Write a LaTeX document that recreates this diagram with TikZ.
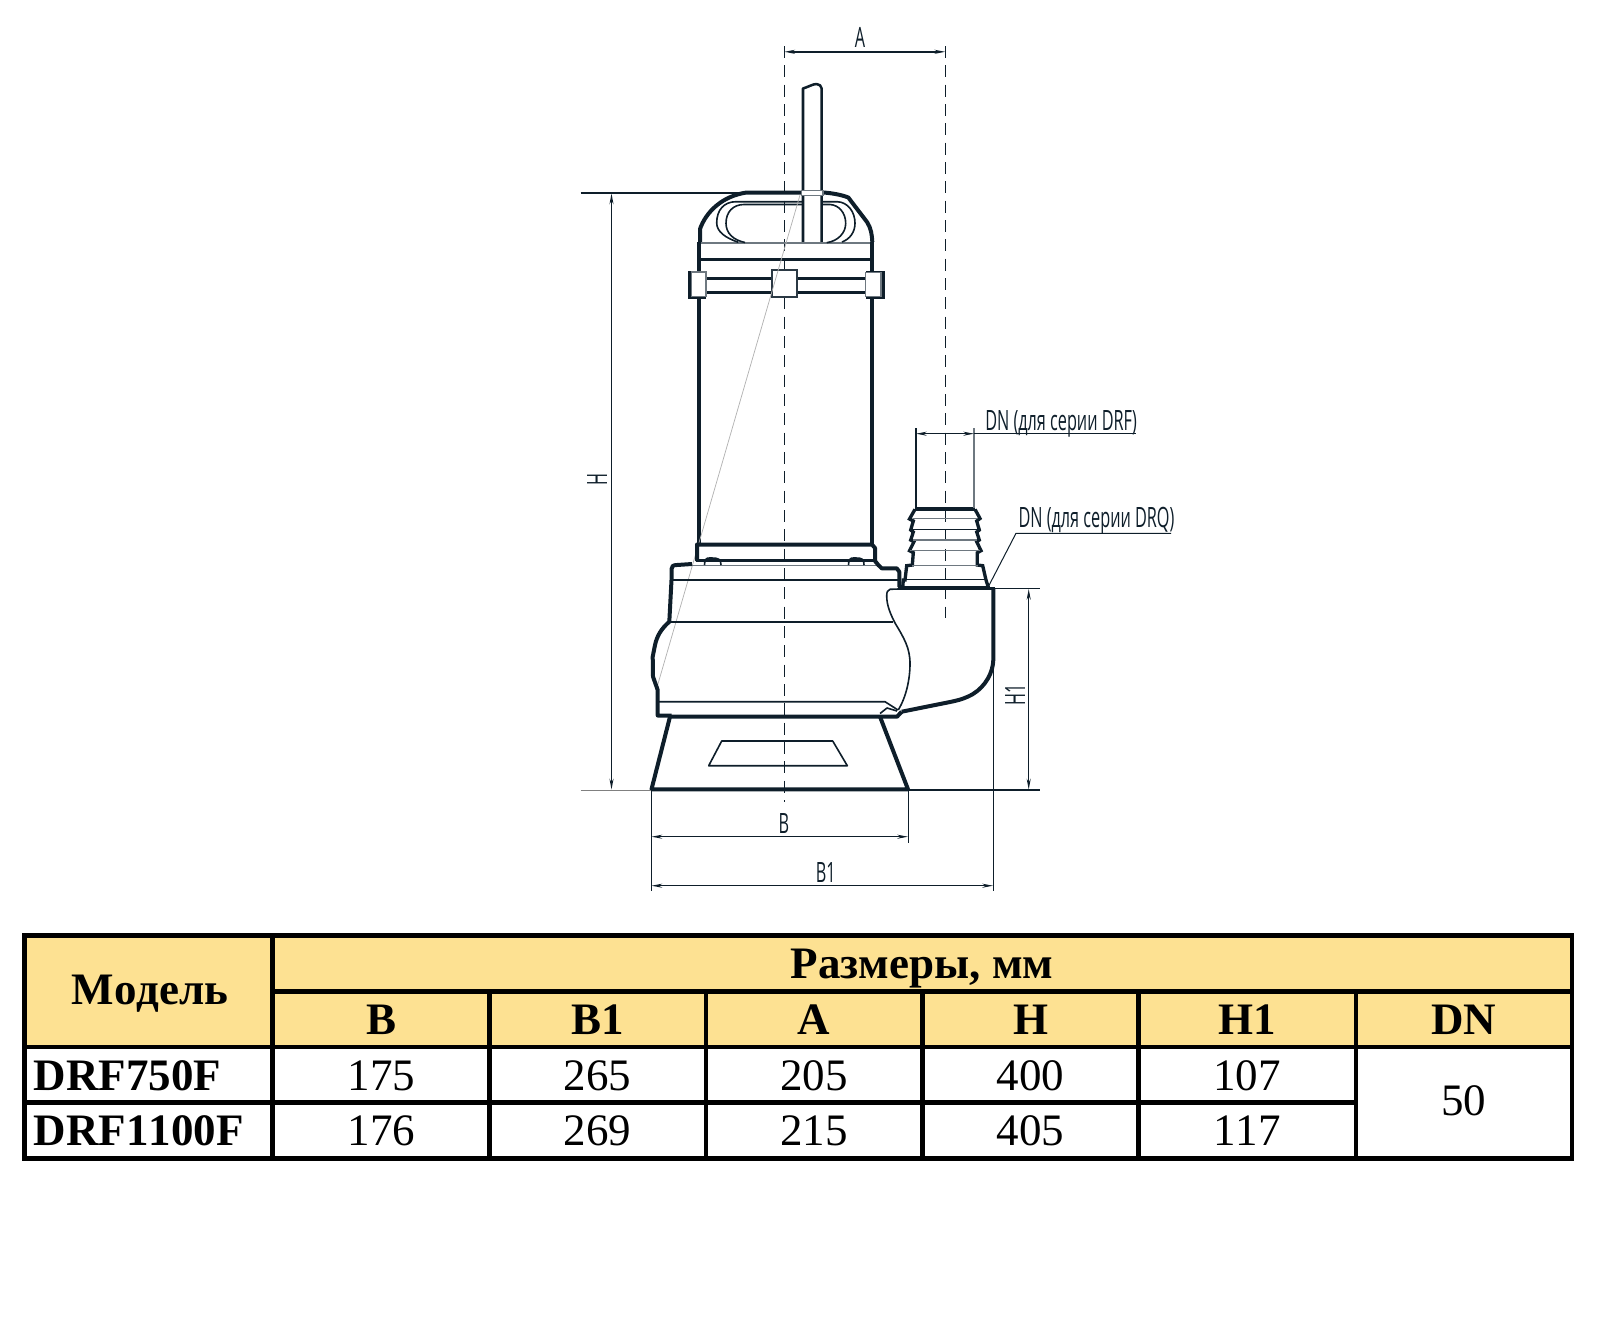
\documentclass[tikz,border=0pt]{standalone}
\usepackage{fontspec}
\setmainfont[Kerning=Off]{Liberation Serif}
\newfontfamily\dimfont[FakeStretch=0.58]{Open Sans}
\usetikzlibrary{arrows.meta}
\definecolor{ink}{HTML}{0E1E2A}
\definecolor{hdr}{HTML}{FDE192}
\definecolor{soft}{HTML}{6E7880}
\tikzset{
  x=0.75pt,y=-0.75pt,
  heavy/.style={draw=ink,line width=3.0pt,line join=round},
  mid/.style={draw=ink,line width=1.9pt,line join=round},
  fine/.style={draw=ink,line width=1.2pt,line join=round},
  hair/.style={draw=ink,line width=0.8pt},
  grayline/.style={draw=soft,line width=0.9pt},
  centre/.style={draw=ink,line width=0.8pt,dash pattern=on 9pt off 5.5pt},
  dimen/.style={draw=ink,line width=1.05pt,{Stealth[length=8pt,width=3pt]}-{Stealth[length=8pt,width=3pt]}},
  dimlabel/.style={inner sep=0,text=ink,font=\dimfont\fontsize{21}{23}\selectfont},
  grid/.style={draw=black,line width=3.3pt},
  cell/.style={inner sep=0,anchor=base,text=black,font=\fontsize{33.75}{36}\selectfont},
  head/.style={inner sep=0,anchor=base,text=black,font=\bfseries\fontsize{33.75}{36}\selectfont},
}
\begin{document}
\begin{tikzpicture}
\useasboundingbox (0,0) rectangle (1609,1324);
% ---- centre lines
\coordinate (cTop) at (784.3,46); \coordinate (cBot) at (784.3,802);
\coordinate (dTop) at (945.3,46); \coordinate (dBot) at (945.3,618);
\draw[centre] (cTop) -- (cBot);
\draw[centre] (dTop) -- (dBot);
% ---- cable
\draw[mid] (803,243) -- (803,88.5) .. controls (808,87) and (813,84) .. (816.5,84) .. controls (819,84) and (821.7,86) .. (821.7,88.5) -- (821.7,243);
% ---- cap
\draw[heavy] (700,242) -- (700,229) .. controls (706,212) and (722,196) .. (746.7,192.5) -- (802,192.5);
\draw[heavy] (823,192.5) .. controls (832,193) and (842,195) .. (848.3,197.5) -- (867,222) .. controls (871,228) and (872,235) .. (872.3,242);
\draw[draw=soft,line width=1.4pt] (700,242.7) -- (872,242.7);
\draw[mid] (700,259.3) -- (872,259.3);
% handle oval
\draw[fine] (738.3,242.3) .. controls (726,238) and (716.7,232) .. (716.7,223) .. controls (716.7,210) and (724,201.7) .. (736,201.7) -- (802,201.7);
\draw[fine] (745,242.5) .. controls (733,240) and (726,233) .. (726,223.3) .. controls (726,212) and (733,204.5) .. (744,204.5) -- (802,204.5);
\draw[fine] (822.5,201.7) -- (837,201.7) .. controls (848,202) and (855,212) .. (855,223.3) .. controls (855,232) and (850,239) .. (842,242);
\draw[fine] (822.5,204.5) -- (830,204.5) .. controls (839,205) and (845.7,213) .. (845.7,223.3) .. controls (845.7,233) and (838,241) .. (826.7,242.7);
\draw[draw=soft,fill=white,line width=1pt] (801.7,190.7) rectangle (823,195.5);
% ---- motor walls
\draw[heavy] (699,242) -- (699,544);
\draw[heavy] (871.7,242) -- (871.7,544);
% clamp band
\draw[draw=ink,line width=2.3pt] (700,278.3) -- (872,278.3);
\draw[draw=ink,line width=2.3pt] (700,292.3) -- (872,292.3);
% clamp blocks
\path[fill=ink] (687.5,270.5) rectangle (706,298.5);
\draw[draw=soft,fill=white,line width=0.8pt] (691.5,272) rectangle (706,296.5);
\path[fill=ink] (865.5,270.5) rectangle (884.5,298.5);
\draw[draw=soft,fill=white,line width=0.8pt] (865.5,272.5) rectangle (881,296.5);
\draw[draw=ink!70!soft,fill=white,line width=1.5pt] (772,270) rectangle (796.7,297.3);
% grey diagonal
\draw[draw=gray!60,line width=0.55pt] (800,195) -- (656.7,688.3);
% ---- collar
\draw[heavy] (697,561) -- (697,544.5) -- (872,544.5) -- (875,548) -- (875,561);
\draw[mid] (696,560.7) -- (875,560.7);
\draw[grayline] (692,565.7) -- (878,565.7);
\draw[fine] (704.5,565) -- (705,560) .. controls (706,558) and (708,558) .. (712,558) .. controls (718,558) and (721,559) .. (721,565);
\draw[fine] (848.5,565) -- (849,560) .. controls (850,558) and (852,558) .. (856,558) .. controls (862,558) and (864,559) .. (864,565);
% ---- housing outline
\draw[heavy] (692,564) -- (677,565) .. controls (673,565) and (671.5,566.5) .. (671.5,569) -- (671.5,580) -- (669.3,621.7) .. controls (661,629) and (657,636) .. (655,645) -- (652.7,656.7) -- (653,676.7) -- (657.7,690) -- (657.7,715.5) -- (671.7,715.5);
\draw[heavy] (670,716.7) -- (897,716.7) -- (901.7,711.7);
\draw[heavy] (875,561) -- (878.3,565) -- (881.7,568.3) -- (896.7,568.3) -- (899.3,571.7) -- (899.3,587);
\draw[mid] (671,580) -- (899,580);
\draw[fine] (669,622) -- (893.3,622);
% volute
\draw[fine] (898.5,589) -- (890,589.3) .. controls (887.5,590) and (886.7,592) .. (886.7,596) .. controls (886.7,606) and (891,615) .. (895,623) .. controls (904,638) and (910,648) .. (910,663.5) .. controls (910,680) and (906,697) .. (898.3,710);
\draw[heavy] (993.3,588) -- (993.3,660) .. controls (993,672) and (986,686) .. (973,694) .. controls (966,698) and (960,700) .. (950,702) -- (901.7,711.7);
\draw[draw=ink,line width=2.3pt] (898,588.3) -- (995,588.3);
% lower band
\draw[fine] (657.7,701.7) -- (885,701.7) -- (898,710);
\draw[fine] (880,713.5) -- (887,708) -- (897,711);
% ---- pedestal
\draw[heavy] (670,716.7) -- (651.5,789.3) -- (908,789.3) -- (880,716.7);
\draw[fine] (721.7,741) -- (832.7,741) -- (847.3,765.7) -- (708.7,765.7) -- cycle;
% ---- nozzle
\draw[heavy] (915,509.3) -- (975,509.3);
\draw[draw=ink,line width=2.5pt,line join=miter]
  (915,509.3) -- (909.5,519) -- (913.3,521) -- (910.7,530) -- (913.3,532) -- (910.7,540) -- (914,541.7) -- (909.5,550.7) -- (913.3,552.7) -- (912.3,565) -- (906.7,565.7) -- (905,580) -- (903.3,580) -- (902.7,587.3);
\draw[draw=ink,line width=2.5pt,line join=miter]
  (975,509.3) -- (980,518.5) -- (976.7,521) -- (979.3,530) -- (976.7,532) -- (979.3,540) -- (976.7,541.7) -- (981,550.7) -- (977.3,552.7) -- (977.3,565) -- (982.7,565.7) -- (986,580) -- (988.3,587.3);
\draw[grayline] (913.3,518.5) -- (976.7,518.5);
\draw[hair] (911.7,529.5) -- (978.3,529.5);
\draw[grayline] (913,540) -- (977,540);
\draw[grayline] (910,550.3) -- (980,550.3);
\draw[grayline] (912,565.7) -- (978,565.7);
\draw[fine] (906,579.5) -- (986,579.5);
\draw[draw=ink,line width=2.5pt] (901,587.5) -- (990,587.5);
% ---- extension lines
\coordinate (hA) at (580.7,192.7); \coordinate (hB) at (746,192.7);
\coordinate (gA) at (580.7,790); \coordinate (gB) at (652,790);
\coordinate (gC) at (908,790); \coordinate (gD) at (1040,790);
\coordinate (h1A) at (995,588.3); \coordinate (h1B) at (1040,588.3);
\draw[draw=ink,line width=1.2pt] (hA) -- (hB);
\draw[draw=gray,line width=0.75pt] (gA) -- (gB);
\draw[draw=ink,line width=1.1pt] (gC) -- (gD);
\draw[draw=ink,line width=1.1pt] (h1A) -- (h1B);
\coordinate (dH1) at (611.5,193.5); \coordinate (dH2) at (611.5,789.5);
\draw[dimen] (dH1) -- (dH2);
\node[dimlabel,rotate=90] (lH) at (597,480) {H};
\coordinate (dH3) at (1028.7,589); \coordinate (dH4) at (1028.7,789.5);
\draw[dimen] (dH3) -- (dH4);
\node[dimlabel,rotate=90] (lH1) at (1015,695) {H1};
% ---- dimension A
\coordinate (dA1) at (784.3,51.8); \coordinate (dA2) at (945.3,51.8);
\draw[dimen] (dA1) -- (dA2);
\node[dimlabel] (lA) at (860,37) {A};
% ---- dimension B and B1
\coordinate (eA1) at (651.3,790); \coordinate (eA2) at (651.3,890.7);
\coordinate (eB1) at (908.3,790); \coordinate (eB2) at (908.3,842.7);
\coordinate (eC1) at (993.3,588); \coordinate (eC2) at (993.3,890.7);
\draw[hair] (eA1) -- (eA2);
\draw[hair] (eB1) -- (eB2);
\draw[hair] (eC1) -- (eC2);
\coordinate (dB1) at (651.5,836.7); \coordinate (dB2) at (908,836.7);
\coordinate (dC1) at (651.5,885.7); \coordinate (dC2) at (993,885.7);
\draw[dimen] (dB1) -- (dB2);
\draw[dimen] (dC1) -- (dC2);
\node[dimlabel] (lB) at (784,823.5) {B};
\node[dimlabel] (lB1) at (825.7,872) {B1};
% ---- dimension DN
\coordinate (eD1) at (916,428); \coordinate (eD2) at (916,508.3);
\coordinate (eE1) at (974,428); \coordinate (eE2) at (974,508.3);
\draw[hair] (eD1) -- (eD2);
\draw[draw=soft,line width=0.9pt] (eE1) -- (eE2);
\coordinate (dD1) at (916,433.7); \coordinate (dD2) at (974,433.7);
\draw[dimen] (dD1) -- (dD2);
\coordinate (uA) at (1135.7,433.7);
\draw[draw=ink,line width=0.75pt] (dD2) -- (uA);
\node[dimlabel,anchor=base west] (lDRF) at (985,430) {DN (для серии DRF)};
\coordinate (uB) at (1016,533.3); \coordinate (uC) at (1171,533.3); \coordinate (uD) at (988.3,586.7);
\draw[draw=ink,line width=0.75pt] (uC) -- (uB) -- (uD);
\node[dimlabel,anchor=base west] (lDRQ) at (1018.3,527.5) {DN (для серии DRQ)};
% ---- table
\path[fill=hdr] (24.6,935.3) rectangle (1571.7,1046.7);
\coordinate (tNW) at (24.6,935.3); \coordinate (tSE) at (1571.7,1158.3);
\draw[grid] (tNW) rectangle (tSE);
\draw[grid] (272.5,935.3) -- (272.5,1158.3);
\draw[grid] (272.5,991.3) -- (1571.7,991.3);
\draw[grid] (24.6,1046.7) -- (1571.7,1046.7);
\draw[grid] (24.6,1102.3) -- (1355.7,1102.3);
\foreach \cx in {489.5,706,922.4,1138.6,1355.7} \draw[grid] (\cx,991.3) -- (\cx,1158.3);
\node[head] (tModel) at (150,1004) {Модель};
\node[head] (tSize) at (922,978) {Размеры, мм};
\node[head] (hB0) at (381.5,1034) {B};
\node[head] (hB1) at (597.5,1034) {B1};
\node[head] (hA0) at (814,1034) {A};
\node[head] (hH0) at (1030.5,1034) {H};
\node[head] (hH1) at (1247,1034) {H1};
\node[head] (hDN) at (1463.5,1034) {DN};
\node[head,anchor=base west] (m1) at (33.5,1090.7) {DRF750F};
\node[head,anchor=base west] (m2) at (33.5,1145.7) {DRF1100F};
\node[cell] (a1) at (381.5,1090.7) {175};
\node[cell] (a2) at (597.5,1090.7) {265};
\node[cell] (a3) at (814,1090.7) {205};
\node[cell] (a4) at (1030.5,1090.7) {400};
\node[cell] (a5) at (1247,1090.7) {107};
\node[cell] (b1) at (381.5,1145.7) {176};
\node[cell] (b2) at (597.5,1145.7) {269};
\node[cell] (b3) at (814,1145.7) {215};
\node[cell] (b4) at (1030.5,1145.7) {405};
\node[cell] (b5) at (1247,1145.7) {117};
\node[cell] (dn) at (1463.5,1115.7) {50};
\end{tikzpicture}
\end{document}
